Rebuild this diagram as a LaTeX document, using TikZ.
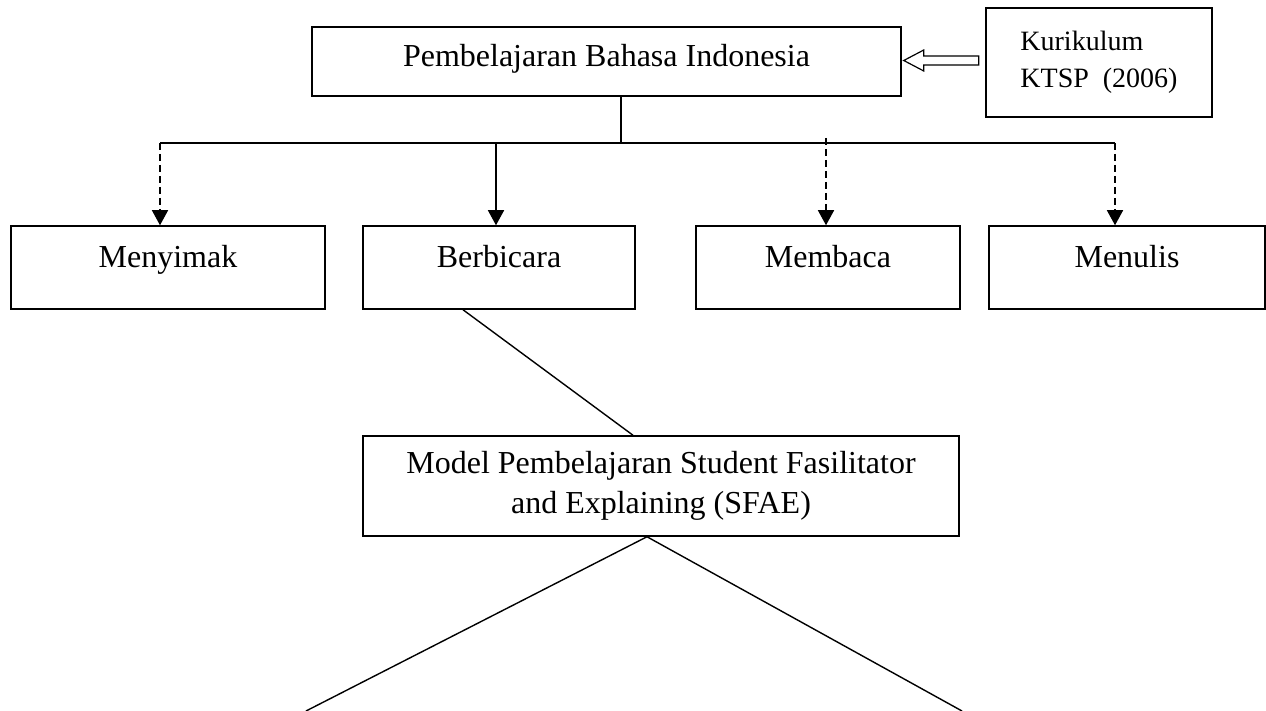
\documentclass[tikz,border=0pt]{standalone}
\usepackage{fontspec}
\setmainfont{Liberation Serif}
\usetikzlibrary{arrows.meta,calc}
\begin{document}
\begin{tikzpicture}[x=1pt,y=-1pt,
  box/.style={draw, line width=1.5pt, inner sep=0pt, font=\fontsize{32}{37}\selectfont},
  skill/.style={box, minimum height=83pt, text height=16pt, text depth=16pt},
  conn/.style={line width=1.4pt},
  tip/.style={-{Triangle[length=15pt,width=16pt]}},
  dsh/.style={dash pattern=on 7pt off 4pt}
]
\useasboundingbox (0,0) rectangle (1266,711);
% nodes
\node[box, minimum width=589pt, minimum height=69pt, text height=22pt, text depth=11pt] (top) at (606.5,61.5) {Pembelajaran Bahasa Indonesia};
\node[box, minimum width=226pt, minimum height=109pt, align=left, font=\fontsize{28}{37}\selectfont] (kur) at (1099,62.5) {Kurikulum\\KTSP\ \ (2006)};
\node[skill, minimum width=314pt] (men) at (168,267.5) {Menyimak};
\node[skill, minimum width=272pt] (ber) at (499,267.5) {Berbicara};
\node[skill, minimum width=264pt] (mem) at (828,267.5) {Membaca};
\node[skill, minimum width=276pt] (tul) at (1127,267.5) {Menulis};
\node[box, minimum width=596pt, minimum height=100pt, align=center, font=\fontsize{32}{40}\selectfont] (mod) at (661,486) {Model Pembelajaran Student Fasilitator\\and Explaining (SFAE)};
% hollow arrow from Kurikulum to top box
\coordinate (htip) at ($(top.east)+(2,-1)$);
\draw[line width=1.2pt, line join=miter] (htip) -- ++(20,-10.5) -- ++(0,6) -- ++(55,0) -- ++(0,9) -- ++(-55,0) -- ++(0,6) -- cycle;
% bus
\coordinate (drop) at (621,143);
\coordinate (b1) at (160,143);
\coordinate (b2) at (496,143);
\coordinate (b3) at (826,143);
\coordinate (b4) at (1115,143);
\draw[conn] (drop |- top.south) -- (drop);
\draw[conn] (b1) -- (b4);
\draw[conn, dsh, tip] (b1) -- (b1 |- men.north);
\draw[conn, tip] (b2) -- (b2 |- ber.north);
\draw[conn, dsh, tip] ($(b3)+(0,-5)$) -- (b3 |- mem.north);
\draw[conn, dsh, tip] (b4) -- (b4 |- tul.north);
% Berbicara to model
\coordinate (bs) at (463,309);
\coordinate (mt) at (633,436);
\draw[conn] (bs |- ber.south) -- (mt |- mod.north);
% model to bottom
\coordinate (ap) at (647,536);
\coordinate (bl) at (306,711);
\coordinate (br) at (962,711);
\draw[conn] (bl) -- (ap |- mod.south) -- (br);
\end{tikzpicture}
\end{document}
